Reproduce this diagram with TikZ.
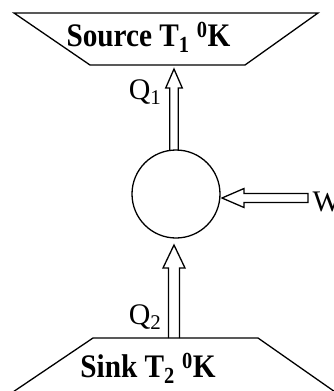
\documentclass[tikz,border=0pt]{standalone}
\usepackage{fontspec}
\setmainfont{Liberation Serif}
\newcommand{\narrow}[1]{\scalebox{0.89}[1]{#1}}
\begin{document}
\begin{tikzpicture}[x=1bp,y=-1bp, line width=1.3bp, line join=miter,
  lbl/.style={font=\fontsize{30}{34}\selectfont, inner sep=0pt},
  ttl/.style={font=\fontsize{33}{37}\selectfont\bfseries, inner sep=0pt},
  blockarrow/.style={draw}]
\useasboundingbox (0,0) rectangle (334,391);
% source reservoir
\draw (14,13) -- (318,13) -- (245,65) -- (90,65) -- cycle;
\node[ttl, anchor=base] (source) at (148.5,46) {\narrow{Source T\textsubscript{1} \textsuperscript{0}K}};
% sink reservoir
\draw (10,394) -- (93,338) -- (258,338) -- (338,394);
\node[ttl, anchor=base] (sink) at (148,377) {\narrow{Sink T\textsubscript{2} \textsuperscript{0}K}};
% engine
\node[draw, circle, minimum size=88bp, inner sep=0pt] (engine) at (176,194) {};
% Q1 arrow
\draw[blockarrow] (169.7,150.5) -- (169.7,88) -- (165.7,88) -- (174,69) -- (182.3,88) -- (178.3,88) -- (178.3,150.5);
% Q2 arrow
\draw[blockarrow] (168.5,338) -- (168.5,268) -- (163,268) -- (174,245) -- (185,268) -- (179.5,268) -- (179.5,338);
% W arrow
\draw[blockarrow] (222,198) -- (244,188.5) -- (244,193.5) -- (308,193.5) -- (308,202.5) -- (244,202.5) -- (244,207.5) -- cycle;
% labels
\node[lbl, anchor=base east] (q1) at (162,99) {Q\textsubscript{1}};
\node[lbl, anchor=base east] (q2) at (162,324) {Q\textsubscript{2}};
\node[lbl, anchor=base west] (w) at (312,211.5) {W};
\end{tikzpicture}
\end{document}
